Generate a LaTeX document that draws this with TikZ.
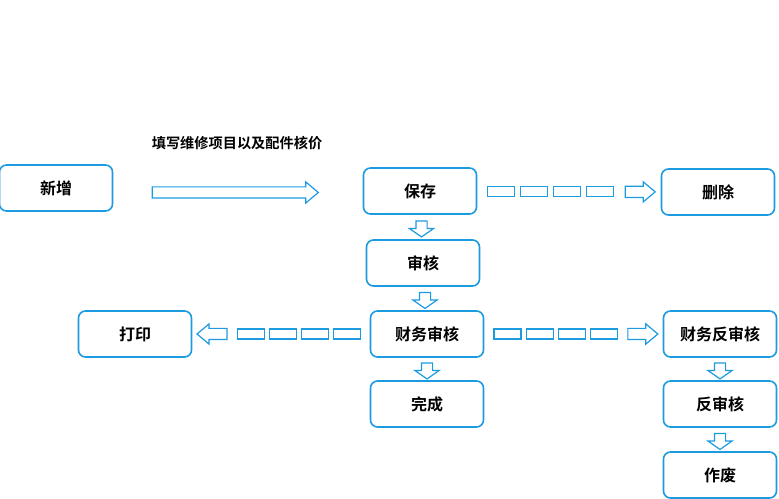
\documentclass[tikz,border=0pt]{standalone}
\usepackage{fontspec}
\usepackage{tikz}
\usetikzlibrary{shapes,shapes.arrows,calc}
\newfontfamily\cjk{Noto Sans CJK SC Bold}
\definecolor{flowblue}{RGB}{28,155,225}
\tikzstyle{flowbox}=[rectangle, rounded corners=7pt, draw=flowblue, line width=1.6pt, minimum height=46pt, minimum width=113pt, font=\cjk\fontsize{16}{19}\selectfont]
\tikzstyle{hollowarrow}=[single arrow, draw=flowblue, line width=1.2pt, inner xsep=0pt, inner ysep=5pt, fill=white]
\tikzstyle{dashbox}=[rectangle, draw=flowblue, line width=1.2pt, inner sep=0pt, minimum height=10pt, minimum width=27pt]
\newcommand{\flowbox}[3]{
	\node[flowbox] (#1) at (#2) {#3};}
\newcommand{\flowdown}[3]{
	\node[hollowarrow, inner sep=5pt, minimum height=16pt, single arrow head extend=6.5pt, single arrow tip angle=110, shape border rotate=270] (#1) at ($(#2.south)!0.5!(#3.north)$) {};}
\newcommand{\flowdash}[4]{
	\foreach \f [count=\i] in {0.13,0.31,0.49,0.67}
		\node[dashbox] (#1\i) at ($(#2)!\f!(#3)$) {};
	\node[hollowarrow, minimum height=30pt, single arrow head extend=4.5pt, single arrow tip angle=80, shape border rotate=#4] (#1h) at ($(#2)!0.87!(#3)$) {};}

\begin{document}
\begin{tikzpicture}[x=1pt, y=1pt]
\useasboundingbox (0,0) rectangle (779,498);
\flowbox{add}{56,310}{新增}
\flowbox{save}{420,307}{保存}
\flowbox{del}{718,306}{删除}
\flowbox{check}{423,235}{审核}
\flowbox{fin}{427,164}{财务审核}
\flowbox{print}{135,164}{打印}
\flowbox{unfin}{720,164}{财务反审核}
\flowbox{done}{427,94}{完成}
\flowbox{uncheck}{720,94}{反审核}
\flowbox{void}{720,23}{作废}
\node[font=\cjk\fontsize{14.2}{17}\selectfont] (fill) at (237,355) {填写维修项目以及配件核价};
\node[hollowarrow, minimum height=166pt, single arrow head extend=5pt, single arrow tip angle=80] (addsave) at ($(add.east)!0.5!(save.west)+(-6,-3)$) {};
\flowdown{savecheck}{save}{check}
\flowdown{checkfin}{check}{fin}
\flowdown{findone}{fin}{done}
\flowdown{unfinun}{unfin}{uncheck}
\flowdown{unvoid}{uncheck}{void}
\flowdash{savedel}{save.east}{del.west}{0}
\flowdash{finprint}{fin.west}{print.east}{180}
\flowdash{finunfin}{fin.east}{unfin.west}{0}
\end{tikzpicture}
\end{document}
